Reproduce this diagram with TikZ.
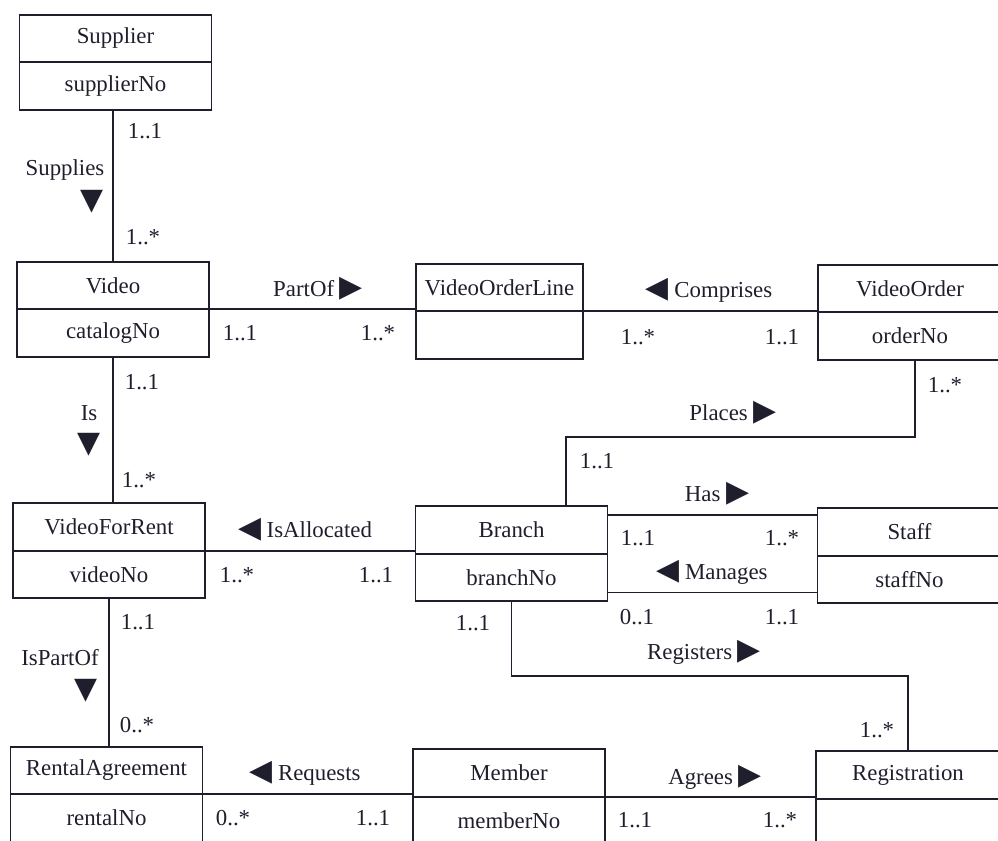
\documentclass[tikz,border=0pt]{standalone}
\usepackage{fontspec}
\setmainfont{Liberation Serif}
\newfontfamily\trifont{DejaVu Sans}
\usetikzlibrary{positioning}
\definecolor{ink}{RGB}{30,30,45}
\newcommand{\rtri}{{\trifont\fontsize{17}{17}\selectfont ▶}}
\newcommand{\ltri}{{\trifont\fontsize{17}{17}\selectfont ◀}}
\newcommand{\dtri}{{\trifont\fontsize{17}{17}\selectfont ▼}}

\begin{document}
\begin{tikzpicture}[font=\fontsize{13}{15}\selectfont, color=ink, line width=0.9pt,
  cls/.style={draw, rectangle, minimum width=3.84cm, minimum height=0.95cm, inner sep=0pt, outer sep=0pt},
  attr/.style={cls, below=0pt of #1},
  mult/.style={inner sep=1pt},
  role/.style={inner sep=1pt}]
  \useasboundingbox (0,0) rectangle (19.96,-16.82);
  \clip (0,0) rectangle (19.96,-16.82);
  % classes (name part, then attribute part below it)
  \node[cls] (supplier) at (2.31,-0.77) {Supplier};
  \node[attr=supplier] (supplierNo) {supplierNo};
  \node[cls] (video) at (2.26,-5.71) {Video};
  \node[attr=video] (catalogNo) {catalogNo};
  \node[cls, minimum width=3.34cm] (vidOrderLine) at (9.99,-5.75) {VideoOrderLine};
  \node[attr=vidOrderLine, minimum width=3.34cm] (vidOrderLineAttr) {};
  \node[cls, minimum width=3.68cm] (vidOrder) at (18.2,-5.77) {VideoOrder};
  \node[attr=vidOrder, minimum width=3.68cm] (orderNo) {orderNo};
  \node[cls] (vidForRent) at (2.18,-10.54) {VideoForRent};
  \node[attr=vidForRent] (videoNo) {videoNo};
  \node[cls] (branch) at (10.23,-10.6) {Branch};
  \node[attr=branch] (branchNo) {branchNo};
  \node[cls, minimum width=3.68cm] (staff) at (18.19,-10.64) {Staff};
  \node[attr=staff, minimum width=3.68cm] (staffNo) {staffNo};
  \node[cls] (rental) at (2.13,-15.41) {RentalAgreement};
  \node[attr=rental] (rentalNo) {rentalNo};
  \node[cls] (member) at (10.18,-15.46) {Member};
  \node[attr=member] (memberNo) {memberNo};
  \node[cls, minimum width=3.68cm] (registration) at (18.16,-15.5) {Registration};
  \node[attr=registration, minimum width=3.68cm] (registrationAttr) {};
  % associations
  \draw (video.north) -- (video.north |- supplierNo.south);
  \draw (catalogNo.south) -- (catalogNo.south |- vidForRent.north);
  \draw (videoNo.south) -- (videoNo.south |- rental.north);
  \draw (video.south east) -- (video.south east -| vidOrderLine.west);
  \draw (vidOrderLine.south east) -- (vidOrderLine.south east -| vidOrder.west);
  \draw ([xshift=1mm]orderNo.south) -- ++(0,-1.55) -| ([xshift=1.09cm]branch.north);
  \draw (vidForRent.south east) -- (vidForRent.south east -| branch.west);
  \coordinate (hasL) at ([yshift=3mm]branch.east);
  \draw (hasL) -- (hasL -| staff.west);
  \coordinate (managesL) at ([yshift=-3mm]branchNo.east);
  \draw (managesL) -- (managesL -| staffNo.west);
  \draw (branchNo.south) -- ++(0,-1.5) -| (registration.north);
  \draw (rental.south east) -- (rental.south east -| member.west);
  \draw (member.south east) -- (member.south east -| registration.west);
  % association names
  \node[role] (suppliesL) at (1.3,-3.4) {Supplies};
  \node[role] (suppliesT) at (1.84,-4.04) {\dtri};
  \node[role] (partOfL) at (6.36,-5.78) {PartOf \rtri};
  \node[role] (comprisesL) at (14.18,-5.8) {\ltri\ Comprises};
  \node[role] (isL) at (1.78,-8.26) {Is};
  \node[role] (isT) at (1.78,-8.9) {\dtri};
  \node[role] (placesL) at (14.66,-8.26) {Places \rtri};
  \node[role] (hasLbl) at (14.34,-9.88) {Has \rtri};
  \node[role] (isAllocL) at (6.1,-10.6) {\ltri\ IsAllocated};
  \node[role] (managesLbl) at (14.24,-11.44) {\ltri\ Manages};
  \node[role] (isPartOfL) at (1.2,-13.16) {IsPartOf};
  \node[role] (isPartOfT) at (1.72,-13.82) {\dtri};
  \node[role] (registersL) at (14.08,-13.04) {Registers \rtri};
  \node[role] (requestsL) at (6.1,-15.46) {\ltri\ Requests};
  \node[role] (agreesL) at (14.3,-15.54) {Agrees \rtri};
  % multiplicities
  \node[mult] at (2.9,-2.62) {1..1};
  \node[mult] at (2.86,-4.74) {1..*};
  \node[mult] at (4.8,-6.66) {1..1};
  \node[mult] at (7.56,-6.66) {1..*};
  \node[mult] at (12.76,-6.74) {1..*};
  \node[mult] at (15.64,-6.74) {1..1};
  \node[mult] at (2.84,-7.64) {1..1};
  \node[mult] at (2.78,-9.6) {1..*};
  \node[mult] at (18.9,-7.7) {1..*};
  \node[mult] at (11.94,-9.22) {1..1};
  \node[mult] at (12.76,-10.76) {1..1};
  \node[mult] at (15.64,-10.76) {1..*};
  \node[mult] at (4.74,-11.5) {1..*};
  \node[mult] at (7.52,-11.5) {1..1};
  \node[mult] at (12.74,-12.34) {0..1};
  \node[mult] at (15.64,-12.34) {1..1};
  \node[mult] at (2.76,-12.44) {1..1};
  \node[mult] at (9.46,-12.46) {1..1};
  \node[mult] at (2.74,-14.5) {0..*};
  \node[mult] at (17.54,-14.6) {1..*};
  \node[mult] at (4.66,-16.36) {0..*};
  \node[mult] at (7.46,-16.36) {1..1};
  \node[mult] at (12.7,-16.4) {1..1};
  \node[mult] at (15.6,-16.4) {1..*};
\end{tikzpicture}
\end{document}
